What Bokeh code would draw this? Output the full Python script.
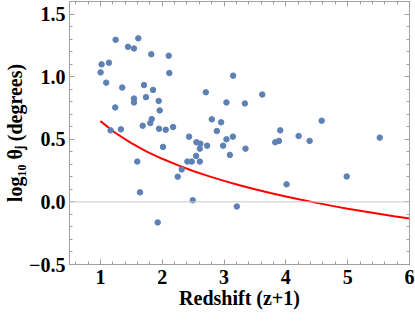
from bokeh.plotting import figure
from bokeh.models import (LinearAxis, SingleIntervalTicker, Span, Range1d)
from bokeh.embed import file_html
from bokeh.resources import INLINE

# Observed data: redshift (z+1) vs log10 jet opening angle
redshift = [1.246, 1.613, 1.446, 1.543, 1.823, 2.105, 1.019, 1.138, 1.003, 2.115,
            3.147, 1.094, 1.705, 1.353, 1.851, 2.705, 1.737, 1.543, 1.543, 1.943,
            3.039, 1.240, 1.959, 1.830, 2.802, 2.953, 1.807, 1.684, 2.175, 1.165,
            1.332, 1.948, 2.057, 2.883, 2.434, 3.143, 3.039, 2.553, 2.617, 2.726,
            2.985, 2.013, 2.608, 3.618, 3.337, 4.579, 3.909, 4.206, 5.519, 3.828,
            3.888, 4.384, 3.347, 3.094, 4.984, 4.011, 3.207, 1.596, 2.548, 2.407,
            2.478, 2.608, 2.316, 2.251, 1.640, 2.494, 1.927]
log_theta = [1.294, 1.306, 1.238, 1.225, 1.179, 1.167, 1.098, 1.111, 1.034, 1.029,
             1.008, 0.952, 0.933, 0.913, 0.894, 0.875, 0.836, 0.825, 0.794, 0.806,
             0.794, 0.754, 0.730, 0.661, 0.659, 0.635, 0.629, 0.608, 0.598, 0.571,
             0.579, 0.584, 0.576, 0.566, 0.521, 0.521, 0.500, 0.476, 0.465, 0.449,
             0.449, 0.439, 0.425, 0.857, 0.786, 0.648, 0.571, 0.526, 0.513, 0.476,
             0.487, 0.487, 0.425, 0.375, 0.203, 0.140, -0.037, 0.322, 0.367, 0.322,
             0.322, 0.322, 0.259, 0.201, 0.076, 0.013, -0.164]

# Model curve
curve_x = [1.0, 1.25, 1.5, 1.75, 2.0, 2.25, 2.5, 2.75, 3.0, 3.25, 3.5,
           3.75, 4.0, 4.25, 4.5, 4.75, 5.0, 5.25, 5.5, 5.75, 6.0]
curve_y = [0.645, 0.548, 0.469, 0.402, 0.344, 0.293, 0.247, 0.206, 0.168, 0.133, 0.101,
           0.071, 0.043, 0.017, -0.008, -0.032, -0.054, -0.075, -0.095, -0.115, -0.133]

# Tick labels
x_ticks = [1, 2, 3, 4, 5, 6]
x_tick_labels = ["1", "2", "3", "4", "5", "6"]
y_ticks = [-0.5, 0.0, 0.5, 1.0, 1.5]
y_tick_labels = ["\u22120.5", "0.0", "0.5", "1.0", "1.5"]

x_label = "Redshift (z+1)"
y_label = "log\u2081\u2080 \u03b8\u2c7c (degrees)"

FONT = "Liberation Serif"
FRAME = "#a0a0a0"

p = figure(width=415, height=327, output_backend="svg", toolbar_location=None,
           x_range=Range1d(0.5, 6.0), y_range=Range1d(-0.5, 1.6),
           x_axis_location=None, y_axis_location=None)
p.min_border_left = 69
p.min_border_right = 6
p.min_border_top = 1
p.min_border_bottom = 63
p.outline_line_color = FRAME
p.xgrid.visible = False
p.ygrid.visible = False
p.background_fill_color = "white"
p.border_fill_color = "white"


def style(ax, labels=True):
    ax.axis_line_color = FRAME
    ax.major_tick_line_color = FRAME
    ax.minor_tick_line_color = FRAME
    ax.major_tick_in = 5
    ax.major_tick_out = 0
    ax.minor_tick_in = 3
    ax.minor_tick_out = 0
    if labels:
        ax.major_label_text_font = FONT
        ax.major_label_text_font_style = "bold"
        ax.major_label_text_font_size = "20px"
        ax.major_label_text_color = "black"
        ax.axis_label_text_font = FONT
        ax.axis_label_text_font_style = "bold"
        ax.axis_label_text_font_size = "20px"
        ax.axis_label_text_color = "black"
    else:
        ax.major_label_text_font_size = "1px"
        ax.major_label_text_color = None
        ax.major_label_standoff = 0


xt = SingleIntervalTicker(interval=1, num_minor_ticks=5)
yt = SingleIntervalTicker(interval=0.5, num_minor_ticks=5)

xb = LinearAxis(ticker=xt, axis_label=x_label)
style(xb)
xb.major_label_overrides = dict(zip(x_ticks, x_tick_labels))
xb.major_label_standoff = 5
xb.axis_label_standoff = 0
p.add_layout(xb, "below")

yl = LinearAxis(ticker=yt, axis_label=y_label)
style(yl)
yl.major_label_overrides = dict(zip(y_ticks, y_tick_labels))
yl.major_label_standoff = 4
yl.axis_label_standoff = 0
p.add_layout(yl, "left")

xa = LinearAxis(ticker=xt)
style(xa, labels=False)
p.add_layout(xa, "above")

yr = LinearAxis(ticker=yt)
style(yr, labels=False)
p.add_layout(yr, "right")

p.add_layout(Span(location=0, dimension="width", line_color="#c8c8c8", line_width=1))

p.line(curve_x, curve_y, line_color="#ff0000", line_width=2)
p.scatter(redshift, log_theta, size=5.5, fill_color="#5e81b5", line_color="#5e81b5")

open("out.html", "w").write(file_html(p, INLINE))
